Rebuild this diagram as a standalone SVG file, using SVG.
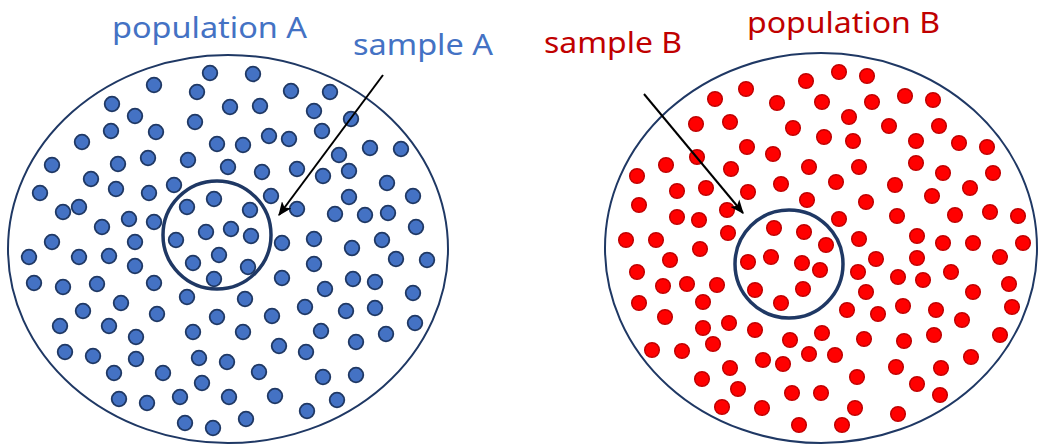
<svg xmlns="http://www.w3.org/2000/svg" xmlns:xlink="http://www.w3.org/1999/xlink" width="1039" height="446" viewBox="0 0 1039 446">
<style>
.pop{fill:none;stroke:#1F3864;stroke-width:2}
.samp{fill:none;stroke:#1F3864;stroke-width:3.5}
.lblA{fill:#4472C4;font-family:"Noto Sans","Liberation Sans",sans-serif;font-size:29px}
.lblB{fill:#C00000;font-family:"Noto Sans","Liberation Sans",sans-serif;font-size:29px}
.arr{stroke:#000;stroke-width:2;fill:none}
</style>
<defs>
<circle id="bd" r="7.3" fill="#4472C4" stroke="#1F3864" stroke-width="1.8"/>
<circle id="rd" r="7.3" fill="#FF0000" stroke="#C00000" stroke-width="1.5"/>
<marker id="ah" viewBox="0 0 12 10" refX="11" refY="5" markerWidth="7" markerHeight="6" markerUnits="strokeWidth" orient="auto">
<path d="M0,0 L12,5 L0,10 L3,5 Z" fill="#000"/>
</marker>
</defs>
<rect width="1039" height="446" fill="#fff"/>
<g id="populationA">
<ellipse class="pop" cx="228" cy="249" rx="220" ry="194"/>
<g id="dotsA">
<use href="#bd" x="210" y="73"/><use href="#bd" x="253" y="74"/><use href="#bd" x="154" y="85"/><use href="#bd" x="197" y="92"/><use href="#bd" x="291" y="91"/><use href="#bd" x="330" y="92"/><use href="#bd" x="112" y="104"/><use href="#bd" x="135" y="116"/><use href="#bd" x="195" y="122"/><use href="#bd" x="230" y="107"/><use href="#bd" x="260" y="106"/><use href="#bd" x="314" y="111"/><use href="#bd" x="351" y="119"/><use href="#bd" x="111" y="131"/><use href="#bd" x="156" y="132"/><use href="#bd" x="82" y="142"/><use href="#bd" x="217" y="144"/><use href="#bd" x="269" y="136"/><use href="#bd" x="289" y="139"/><use href="#bd" x="322" y="131"/><use href="#bd" x="243" y="145"/><use href="#bd" x="339" y="155"/><use href="#bd" x="370" y="148"/><use href="#bd" x="401" y="149"/><use href="#bd" x="52" y="165"/><use href="#bd" x="118" y="164"/><use href="#bd" x="148" y="158"/><use href="#bd" x="188" y="160"/><use href="#bd" x="228" y="167"/><use href="#bd" x="262" y="172"/><use href="#bd" x="297" y="169"/><use href="#bd" x="323" y="176"/><use href="#bd" x="349" y="171"/><use href="#bd" x="387" y="183"/><use href="#bd" x="91" y="179"/><use href="#bd" x="116" y="189"/><use href="#bd" x="40" y="193"/><use href="#bd" x="149" y="193"/><use href="#bd" x="174" y="185"/><use href="#bd" x="271" y="196"/><use href="#bd" x="349" y="197"/><use href="#bd" x="413" y="196"/><use href="#bd" x="63" y="212"/><use href="#bd" x="79" y="207"/><use href="#bd" x="129" y="219"/><use href="#bd" x="154" y="222"/><use href="#bd" x="102" y="227"/><use href="#bd" x="214" y="199"/><use href="#bd" x="187" y="207"/><use href="#bd" x="206" y="232"/><use href="#bd" x="176" y="240"/><use href="#bd" x="231" y="229"/><use href="#bd" x="250" y="210"/><use href="#bd" x="251" y="236"/><use href="#bd" x="297" y="209"/><use href="#bd" x="335" y="214"/><use href="#bd" x="365" y="215"/><use href="#bd" x="388" y="213"/><use href="#bd" x="52" y="242"/><use href="#bd" x="135" y="242"/><use href="#bd" x="282" y="243"/><use href="#bd" x="314" y="239"/><use href="#bd" x="382" y="240"/><use href="#bd" x="416" y="227"/><use href="#bd" x="352" y="248"/>
<use href="#bd" x="29" y="257"/><use href="#bd" x="79" y="257"/><use href="#bd" x="109" y="256"/><use href="#bd" x="135" y="266"/><use href="#bd" x="193" y="263"/><use href="#bd" x="219" y="255"/><use href="#bd" x="214" y="279"/><use href="#bd" x="248" y="267"/><use href="#bd" x="34" y="283"/><use href="#bd" x="63" y="287"/><use href="#bd" x="97" y="284"/><use href="#bd" x="154" y="283"/><use href="#bd" x="187" y="297"/><use href="#bd" x="121" y="303"/><use href="#bd" x="83" y="311"/><use href="#bd" x="157" y="314"/><use href="#bd" x="217" y="317"/><use href="#bd" x="60" y="326"/><use href="#bd" x="109" y="326"/><use href="#bd" x="136" y="337"/><use href="#bd" x="193" y="332"/><use href="#bd" x="65" y="352"/><use href="#bd" x="93" y="356"/><use href="#bd" x="136" y="359"/><use href="#bd" x="199" y="358"/><use href="#bd" x="227" y="362"/><use href="#bd" x="114" y="373"/><use href="#bd" x="163" y="373"/><use href="#bd" x="202" y="383"/><use href="#bd" x="119" y="399"/><use href="#bd" x="147" y="403"/><use href="#bd" x="180" y="397"/><use href="#bd" x="229" y="397"/><use href="#bd" x="185" y="423"/><use href="#bd" x="213" y="428"/>
<use href="#bd" x="396" y="259"/><use href="#bd" x="427" y="260"/><use href="#bd" x="314" y="264"/><use href="#bd" x="282" y="278"/><use href="#bd" x="353" y="279"/><use href="#bd" x="375" y="282"/><use href="#bd" x="325" y="289"/><use href="#bd" x="413" y="293"/><use href="#bd" x="245" y="299"/><use href="#bd" x="272" y="316"/><use href="#bd" x="305" y="307"/><use href="#bd" x="346" y="311"/><use href="#bd" x="375" y="308"/><use href="#bd" x="415" y="323"/><use href="#bd" x="243" y="332"/><use href="#bd" x="321" y="331"/><use href="#bd" x="356" y="342"/><use href="#bd" x="386" y="334"/><use href="#bd" x="279" y="346"/><use href="#bd" x="306" y="352"/><use href="#bd" x="259" y="372"/><use href="#bd" x="323" y="377"/><use href="#bd" x="356" y="375"/><use href="#bd" x="275" y="396"/><use href="#bd" x="337" y="400"/><use href="#bd" x="307" y="411"/><use href="#bd" x="246" y="419"/>
</g>
<text class="lblA" x="112" y="38" textLength="195" lengthAdjust="spacingAndGlyphs">population A</text>
</g>
<g id="sampleA">
<circle class="samp" cx="217" cy="235" r="54"/>
<text class="lblA" x="353" y="55" textLength="140" lengthAdjust="spacingAndGlyphs">sample A</text>
</g>
<g id="populationB">
<ellipse class="pop" cx="821" cy="248" rx="216" ry="195"/>
<g id="dotsB">
<use href="#rd" x="806" y="81"/><use href="#rd" x="746" y="89"/><use href="#rd" x="715" y="99"/><use href="#rd" x="777" y="103"/><use href="#rd" x="696" y="124"/><use href="#rd" x="730" y="122"/><use href="#rd" x="793" y="128"/><use href="#rd" x="822" y="102"/><use href="#rd" x="824" y="137"/><use href="#rd" x="747" y="147"/><use href="#rd" x="773" y="154"/><use href="#rd" x="697" y="157"/><use href="#rd" x="666" y="165"/><use href="#rd" x="731" y="169"/><use href="#rd" x="809" y="167"/><use href="#rd" x="637" y="176"/><use href="#rd" x="677" y="191"/><use href="#rd" x="706" y="188"/><use href="#rd" x="748" y="192"/><use href="#rd" x="781" y="184"/><use href="#rd" x="807" y="200"/><use href="#rd" x="639" y="205"/><use href="#rd" x="677" y="217"/><use href="#rd" x="699" y="220"/><use href="#rd" x="727" y="210"/><use href="#rd" x="728" y="233"/><use href="#rd" x="774" y="228"/><use href="#rd" x="804" y="232"/><use href="#rd" x="626" y="240"/><use href="#rd" x="656" y="240"/><use href="#rd" x="700" y="249"/>
<use href="#rd" x="839" y="72"/><use href="#rd" x="867" y="76"/><use href="#rd" x="872" y="102"/><use href="#rd" x="905" y="96"/><use href="#rd" x="933" y="100"/><use href="#rd" x="849" y="117"/><use href="#rd" x="889" y="126"/><use href="#rd" x="939" y="126"/><use href="#rd" x="853" y="141"/><use href="#rd" x="916" y="141"/><use href="#rd" x="959" y="143"/><use href="#rd" x="987" y="147"/><use href="#rd" x="859" y="167"/><use href="#rd" x="916" y="163"/><use href="#rd" x="943" y="173"/><use href="#rd" x="993" y="173"/><use href="#rd" x="836" y="182"/><use href="#rd" x="895" y="185"/><use href="#rd" x="932" y="196"/><use href="#rd" x="970" y="188"/><use href="#rd" x="866" y="202"/><use href="#rd" x="839" y="219"/><use href="#rd" x="897" y="216"/><use href="#rd" x="955" y="215"/><use href="#rd" x="990" y="212"/><use href="#rd" x="1018" y="216"/><use href="#rd" x="826" y="245"/><use href="#rd" x="859" y="239"/><use href="#rd" x="917" y="236"/><use href="#rd" x="943" y="243"/><use href="#rd" x="973" y="243"/><use href="#rd" x="1023" y="243"/>
<use href="#rd" x="670" y="260"/><use href="#rd" x="637" y="272"/><use href="#rd" x="748" y="262"/><use href="#rd" x="771" y="257"/><use href="#rd" x="802" y="263"/><use href="#rd" x="820" y="270"/><use href="#rd" x="663" y="286"/><use href="#rd" x="687" y="284"/><use href="#rd" x="717" y="285"/><use href="#rd" x="755" y="290"/><use href="#rd" x="803" y="289"/><use href="#rd" x="639" y="303"/><use href="#rd" x="703" y="302"/><use href="#rd" x="781" y="303"/><use href="#rd" x="665" y="317"/><use href="#rd" x="703" y="328"/><use href="#rd" x="729" y="323"/><use href="#rd" x="755" y="330"/><use href="#rd" x="713" y="344"/><use href="#rd" x="790" y="340"/><use href="#rd" x="822" y="333"/><use href="#rd" x="652" y="350"/><use href="#rd" x="682" y="351"/><use href="#rd" x="763" y="360"/><use href="#rd" x="783" y="364"/><use href="#rd" x="809" y="354"/><use href="#rd" x="730" y="368"/><use href="#rd" x="702" y="379"/><use href="#rd" x="738" y="389"/><use href="#rd" x="792" y="393"/><use href="#rd" x="821" y="393"/><use href="#rd" x="722" y="407"/><use href="#rd" x="762" y="408"/><use href="#rd" x="799" y="425"/>
<use href="#rd" x="876" y="259"/><use href="#rd" x="858" y="272"/><use href="#rd" x="917" y="258"/><use href="#rd" x="898" y="277"/><use href="#rd" x="923" y="280"/><use href="#rd" x="951" y="272"/><use href="#rd" x="1000" y="257"/><use href="#rd" x="1009" y="284"/><use href="#rd" x="973" y="292"/><use href="#rd" x="866" y="292"/><use href="#rd" x="847" y="310"/><use href="#rd" x="878" y="314"/><use href="#rd" x="903" y="306"/><use href="#rd" x="936" y="310"/><use href="#rd" x="962" y="320"/><use href="#rd" x="1012" y="307"/><use href="#rd" x="864" y="339"/><use href="#rd" x="904" y="341"/><use href="#rd" x="934" y="335"/><use href="#rd" x="1000" y="335"/><use href="#rd" x="835" y="355"/><use href="#rd" x="971" y="357"/><use href="#rd" x="896" y="367"/><use href="#rd" x="941" y="368"/><use href="#rd" x="857" y="377"/><use href="#rd" x="917" y="384"/><use href="#rd" x="940" y="395"/><use href="#rd" x="855" y="408"/><use href="#rd" x="898" y="414"/><use href="#rd" x="842" y="425"/>
</g>
<text class="lblB" x="747" y="33" textLength="193" lengthAdjust="spacingAndGlyphs">population B</text>
</g>
<g id="sampleB">
<circle class="samp" cx="789" cy="264" r="54"/>
<text class="lblB" x="544" y="53" textLength="138" lengthAdjust="spacingAndGlyphs">sample B</text>
</g>
<g id="connectors">
<line class="arr" x1="383" y1="75" x2="279" y2="215" marker-end="url(#ah)"/>
<line class="arr" x1="644" y1="94" x2="743" y2="213" marker-end="url(#ah)"/>
</g>
</svg>
